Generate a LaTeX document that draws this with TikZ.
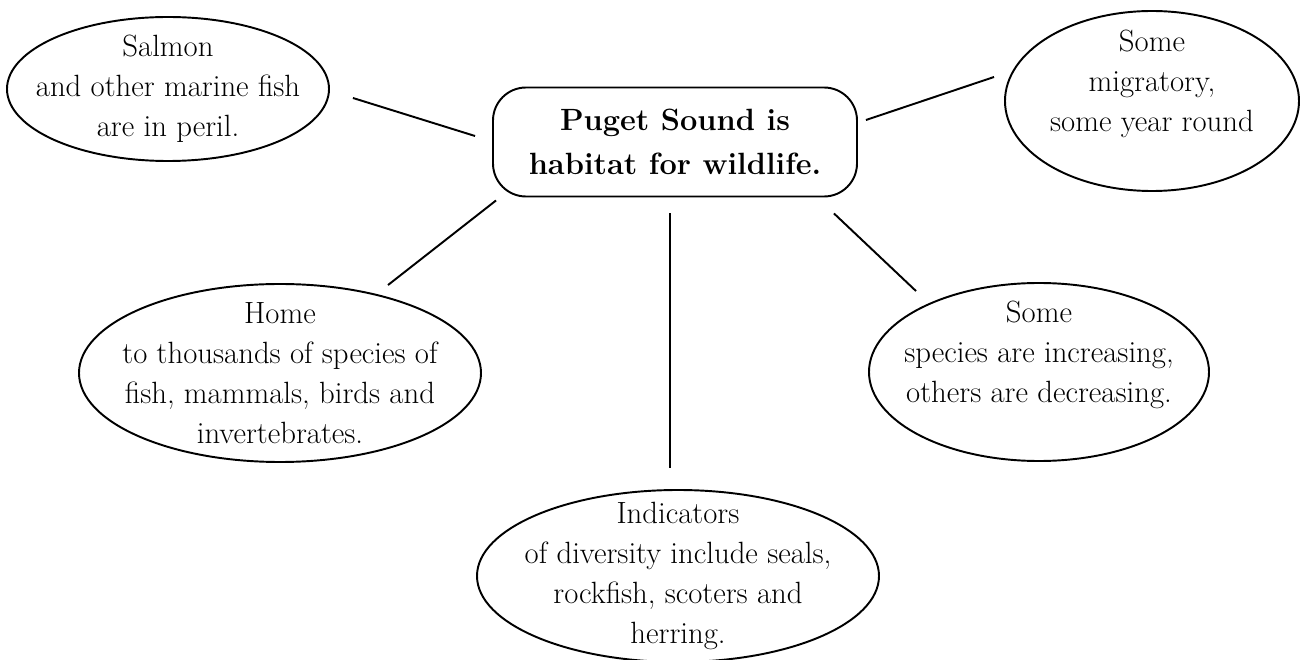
\documentclass[tikz,border=0pt]{standalone}
\usepackage{fontspec}
\usetikzlibrary{shapes.geometric, positioning, calc}

\begin{document}
\begin{tikzpicture}[
  bub/.style={ellipse,draw,line width=1.1pt,align=center,inner sep=-2cm,font=\fontsize{17.5}{22.8}\selectfont},
  hubbox/.style={rectangle,draw,line width=1.1pt,rounded corners=0.66cm,align=center,
    minimum width=7.28cm,minimum height=2.18cm,font=\fontsize{17.5}{25}\selectfont\bfseries},
  lnk/.style={line width=1.1pt}
]
  \useasboundingbox (0,0) rectangle (26,-13.2);
  \node[hubbox](hub) at (13.5,-2.84) {Puget Sound is\\habitat for wildlife.};
  \node[bub, minimum width=6.44cm, minimum height=2.88cm](salmon) at (3.36,-1.78) {Salmon\\and other marine fish\\are in peril.};
  \node[bub, minimum width=5.88cm, minimum height=3.6cm](migr) at (23.04,-2.02) {Some\\migratory,\\some year round\\\mbox{}};
  \node[bub, minimum width=8.04cm, minimum height=3.56cm](home) at (5.6,-7.46) {Home\\to thousands of species of\\fish, mammals, birds and\\invertebrates.};
  \node[bub, minimum width=6.8cm, minimum height=3.56cm](trend) at (20.78,-7.44) {Some\\species are increasing,\\others are decreasing.\\\mbox{}};
  \node[bub, minimum width=8.04cm, minimum height=3.44cm](indic) at (13.56,-11.52) {Indicators\\of diversity include seals,\\rockfish, scoters and\\herring.};

  % spokes, kept clear of the outlines
  \draw[lnk] ([shift={(0.46,-0.18)}]salmon.east) -- ([shift={(-0.34,0.12)}]hub.west);
  \draw[lnk] ([shift={(0.16,0.44)}]hub.east) -- ([shift={(-0.2,0.48)}]migr.west);
  \draw[lnk] ([shift={(0.08,-0.06)}]hub.south west) -- ([shift={(2.16,-0.04)}]home.north);
  \draw[lnk] ([shift={(-0.1,-0.32)}]hub.south) -- ([shift={(-0.16,0.42)}]indic.north);
  \draw[lnk] ([shift={(-0.48,-0.32)}]hub.south east) -- ([shift={(-2.46,-0.18)}]trend.north);
\end{tikzpicture}
\end{document}
